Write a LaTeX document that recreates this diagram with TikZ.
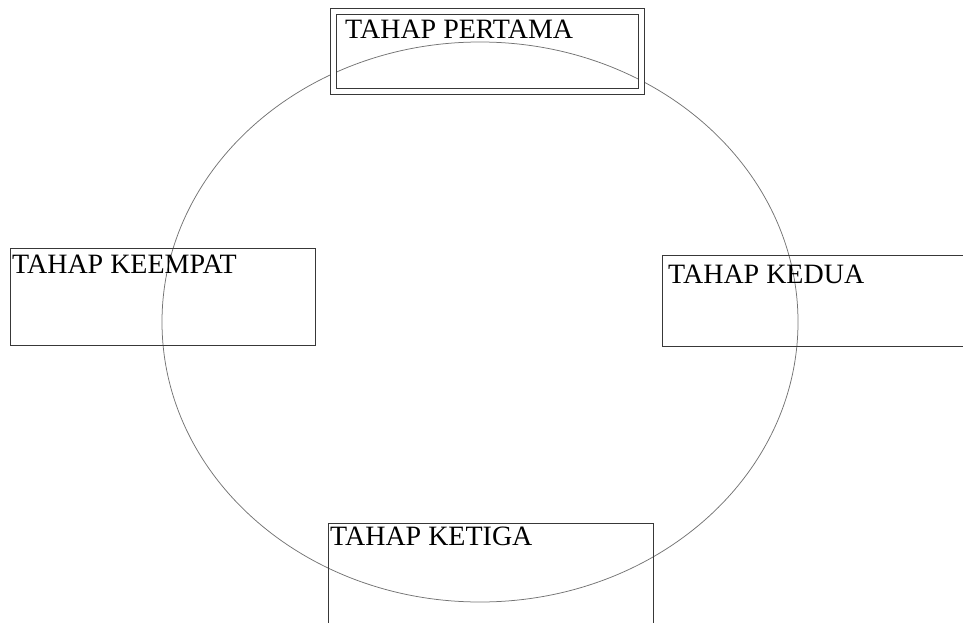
\documentclass[tikz,border=0pt]{standalone}
\usepackage{fontspec}
\setmainfont{Liberation Serif}
\usetikzlibrary{positioning}

\begin{document}
\begin{tikzpicture}[
  x=1pt, y=-1pt,
  tahap/.style={
    draw=black!78,
    line width=1pt,
    rectangle,
    inner sep=0pt,
    outer sep=0pt
  },
  judul/.style={
    font=\fontsize{28}{31}\selectfont,
    text=black,
    inner sep=0pt
  },
  lingkaran/.style={
    draw=black!55,
    line width=0.75pt
  }
]
\useasboundingbox (0,0) rectangle (963,623);

% Lingkaran siklus
\draw[lingkaran] (480,322) ellipse [x radius=318, y radius=280];

% Kotak tahap
\node[tahap, double, double distance=5pt, minimum width=308.5pt, minimum height=80pt]
  (pertama) at (487.25,51.5) {};
\node[tahap, minimum width=338pt, minimum height=91pt] (kedua) at (831,300.5) {};
\node[tahap, minimum width=325pt, minimum height=117pt] (ketiga) at (490.5,581.5) {};
\node[tahap, minimum width=305pt, minimum height=97pt] (keempat) at (162.5,296.5) {};

% Judul tahap
\node[judul, below right=8.5pt and 12pt of pertama.north west] (tpertama) {TAHAP PERTAMA};
\node[judul, below right=10pt and 6pt of kedua.north west] (tkedua) {TAHAP KEDUA};
\node[judul, below right=4pt and 2pt of ketiga.north west] (tketiga) {TAHAP KETIGA};
\node[judul, below right=7pt and 2pt of keempat.north west] (tkeempat) {TAHAP KEEMPAT};

\end{tikzpicture}
\end{document}
